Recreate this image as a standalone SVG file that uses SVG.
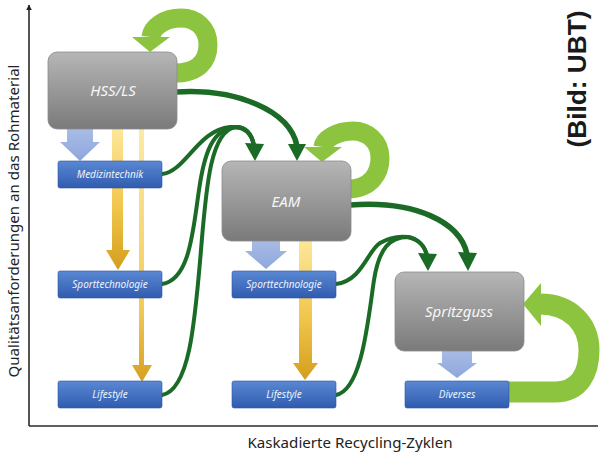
<svg xmlns="http://www.w3.org/2000/svg" width="600" height="456" viewBox="0 0 600 456">
<defs>
<linearGradient id="gGray" x1="0" y1="0" x2="0" y2="1"><stop offset="0" stop-color="#b6b6b6"/><stop offset="1" stop-color="#7a7a7a"/></linearGradient>
<linearGradient id="gBlue" x1="0" y1="0" x2="0" y2="1"><stop offset="0" stop-color="#5b88d4"/><stop offset="1" stop-color="#2f5cae"/></linearGradient>
<linearGradient id="gY1" x1="0" y1="0" x2="0" y2="1"><stop offset="0" stop-color="#fde79a"/><stop offset="0.55" stop-color="#f1c64c"/><stop offset="1" stop-color="#d49e1c"/></linearGradient>
<linearGradient id="gY2" x1="0" y1="0" x2="0" y2="1"><stop offset="0" stop-color="#fdeaa6"/><stop offset="0.7" stop-color="#f2cb5a"/><stop offset="1" stop-color="#d6a020"/></linearGradient>
<linearGradient id="gLB" x1="0" y1="0" x2="0" y2="1"><stop offset="0" stop-color="#a9bce6"/><stop offset="1" stop-color="#8ea7dc"/></linearGradient>
<marker id="axArrow" viewBox="0 0 10 10" refX="9" refY="5" markerWidth="6" markerHeight="6" orient="auto-start-reverse" markerUnits="userSpaceOnUse"><path d="M0,0 L10,5 L0,10 z" fill="#222"/></marker>
</defs>
<style>
.axis{stroke:#2a2a2a;stroke-width:1.6;fill:none}
.axlabel{font-family:"Noto Sans","Open Sans","Liberation Sans",sans-serif;font-size:15px;fill:#222}
.credit{font-family:"Liberation Sans","DejaVu Sans",sans-serif;font-size:26px;font-weight:bold;fill:#1a1a1a}
.main{fill:url(#gGray);stroke:#8c8c8c;stroke-width:0.8}
.mainText{font-family:"Noto Sans","Open Sans","Liberation Sans",sans-serif;font-style:italic;font-size:15px;fill:#f6f6f6;text-anchor:middle}
.sub{fill:url(#gBlue);stroke:#2b56a3;stroke-width:0.6}
.subText{font-family:"Noto Sans","Open Sans","Liberation Sans",sans-serif;font-style:italic;font-size:10px;fill:#eef2fa;text-anchor:middle}
.loop{fill:none;stroke:#8cc43f;stroke-linecap:butt}
.loopHead{fill:#8cc43f}
.flow{fill:none;stroke:#1b6b27;stroke-width:4;stroke-linecap:round}
.flowMain{fill:none;stroke:#1b6b27;stroke-width:5.5;stroke-linecap:butt}
.flowHead{fill:#1b6b27}
.down{fill:url(#gLB)}
</style>

<!-- axes -->
<g id="axes">
<line class="axis" x1="29" y1="426" x2="29" y2="5" marker-end="url(#axArrow)"/>
<line class="axis" x1="29" y1="426" x2="598" y2="426"/>
<text class="axlabel" transform="translate(19,221) rotate(-90)" text-anchor="middle" textLength="313" lengthAdjust="spacingAndGlyphs">Qualitätsanforderungen an das Rohmaterial</text>
<text class="axlabel" x="350" y="448" text-anchor="middle" textLength="205" lengthAdjust="spacingAndGlyphs">Kaskadierte Recycling-Zyklen</text>
<text class="credit" transform="translate(586,79) rotate(-90)" text-anchor="middle" textLength="137" lengthAdjust="spacingAndGlyphs">(Bild: UBT)</text>
</g>

<!-- connectors -->
<g id="connectors">
<!-- recycling loops -->
<path class="loop" stroke-width="19" d="M175,73 C199,73 208,60 208,45 C208,27 195,18 181,18 C165,18 152,27 151,37"/>
<polygon class="loopHead" points="132,37 170,37 150,52"/>
<path class="loop" stroke-width="19" d="M348,189 C371,189 380,173 380,158 C380,141 367,131 353,131 C337,131 324,139 323,147"/>
<polygon class="loopHead" points="304,147 342,147 322,162"/>
<path class="loop" stroke-width="21" d="M508,392 L555,392 C580,392 589,372 589,350 C589,325 571,304 540,304"/>
<polygon class="loopHead" points="541,283 541,326 523,304"/>

<!-- yellow cascade arrows -->
<polygon fill="url(#gY1)" points="112,129 123,129 123,250 130,250 118,270 106,250 112,250"/>
<polygon fill="url(#gY2)" points="139,129 144,129 144,365 152,365 142,382 132,365 139,365"/>
<polygon fill="url(#gY1)" points="299,240 312,240 312,363 318,363 305,380 293,363 299,363"/>

<!-- light blue down arrows -->
<polygon class="down" points="67,128 93,128 93,142 100,142 80,161 60,142 67,142"/>
<polygon class="down" points="252,240 280,240 280,251 287,251 266,269 245,251 252,251"/>
<polygon class="down" points="442,350 472,350 472,363 477,363 457,378 437,363 442,363"/>

<!-- dark green transfer arrows -->
<path class="flowMain" d="M176,92 C235,88 290,110 297,146"/>
<polygon class="flowHead" points="288,144 306,144 297,161"/>
<path class="flow" d="M162,174 C185,172 198,130 230,127 C245,126 252,134 254,146"/>
<path class="flow" d="M162,284 C190,280 193,230 199,190 C204,155 212,128 236,127 C247,127 252,135 254,146"/>
<path class="flow" d="M162,395 C190,390 195,320 201,250 C206,190 210,130 236,127 C247,127 252,135 254,146"/>
<polygon class="flowHead" points="245,143 264,144 255,161"/>
<path class="flow" d="M336,284 C362,281 368,250 380,243 C390,237 400,236 408,237 C418,239 425,246 427,256"/>
<path class="flow" d="M336,395 C362,390 368,320 374,280 C379,248 390,237 408,237 C418,239 425,246 427,256"/>
<polygon class="flowHead" points="418,253 437,254 428,271"/>
<path class="flowMain" d="M350,205 C415,200 460,222 467,254"/>
<polygon class="flowHead" points="458,252 477,253 468,271"/>
</g>

<!-- nodes -->
<g id="node-hss">
<rect class="main" x="48" y="52" width="129" height="77" rx="9"/>
<text class="mainText" x="113" y="96">HSS/LS</text>
</g>
<g id="node-eam">
<rect class="main" x="222" y="161" width="129" height="80" rx="9"/>
<text class="mainText" x="286" y="207">EAM</text>
</g>
<g id="node-spritzguss">
<rect class="main" x="395" y="272" width="129" height="79" rx="9"/>
<text class="mainText" x="459" y="317">Spritzguss</text>
</g>
<g id="node-medizintechnik">
<rect class="sub" x="58" y="161" width="104" height="27" rx="2"/>
<text class="subText" x="110" y="178">Medizintechnik</text>
</g>
<g id="node-sport1">
<rect class="sub" x="58" y="271" width="104" height="27" rx="2"/>
<text class="subText" x="110" y="288">Sporttechnologie</text>
</g>
<g id="node-lifestyle1">
<rect class="sub" x="58" y="381" width="104" height="27" rx="2"/>
<text class="subText" x="110" y="398">Lifestyle</text>
</g>
<g id="node-sport2">
<rect class="sub" x="232" y="271" width="104" height="27" rx="2"/>
<text class="subText" x="284" y="288">Sporttechnologie</text>
</g>
<g id="node-lifestyle2">
<rect class="sub" x="232" y="381" width="104" height="27" rx="2"/>
<text class="subText" x="284" y="398">Lifestyle</text>
</g>
<g id="node-diverses">
<rect class="sub" x="405" y="381" width="104" height="27" rx="2"/>
<text class="subText" x="457" y="398">Diverses</text>
</g>
</svg>
